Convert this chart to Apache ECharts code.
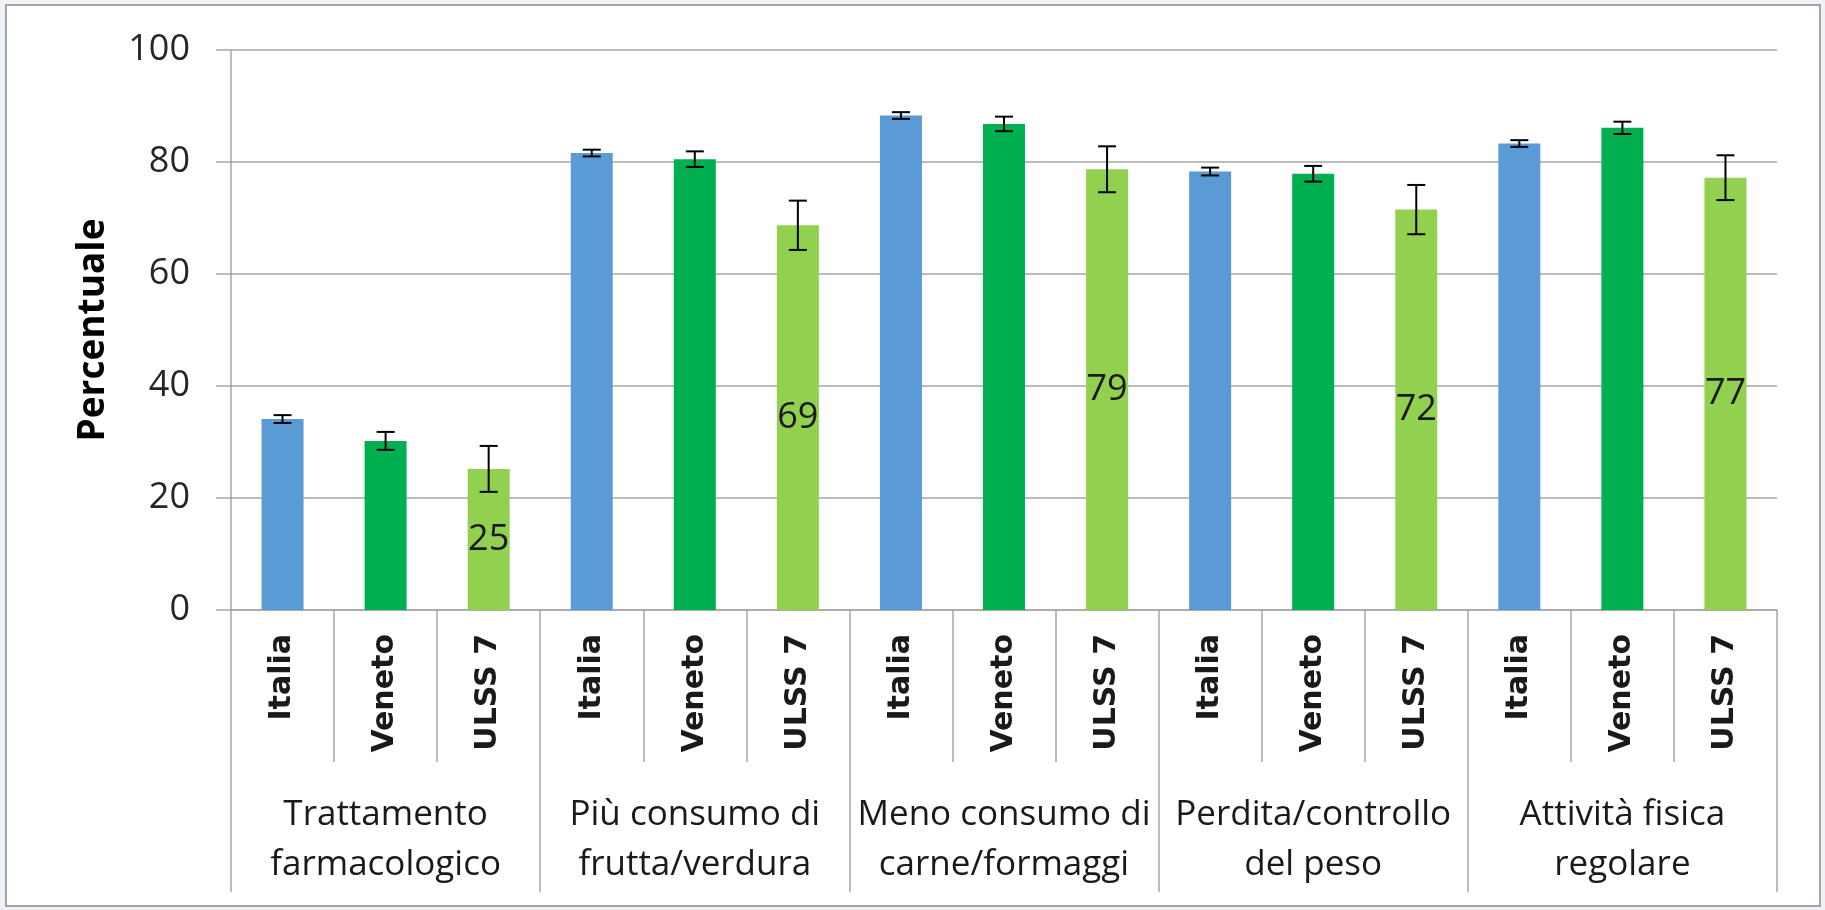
<!DOCTYPE html>
<html>
<head>
<meta charset="utf-8">
<script src="https://cdn.jsdelivr.net/npm/echarts@6/dist/echarts.min.js"></script>
<style>
    html, body { margin: 0; padding: 0; background: #eef2f7; }
    #chart { width: 1825px; height: 910px; }
</style>
</head>
<body>
<div id="chart"></div>
<script>
// gruppi e aree
var groups = ['Trattamento\nfarmacologico', 'Più consumo di\nfrutta/verdura', 'Meno consumo di\ncarne/formaggi', 'Perdita/controllo\ndel peso', 'Attività fisica\nregolare'];
var areas = ['Italia', 'Veneto', 'ULSS 7'];
var areaColors = ['#5b9bd5', '#00b050', '#92d050'];

// percentuali
var italia = [34.1, 81.6, 88.3, 78.3, 83.3];
var veneto = [30.2, 80.5, 86.8, 77.9, 86.1];
var ulss7 = [25.2, 68.7, 78.7, 71.5, 77.2];

// semiampiezza intervallo di confidenza
var errItalia = [0.7, 0.6, 0.6, 0.7, 0.6];
var errVeneto = [1.6, 1.4, 1.3, 1.4, 1.1];
var errUlss7 = [4.1, 4.4, 4.1, 4.4, 4.0];

var yTicks = [0, 20, 40, 60, 80, 100];

var values = [italia, veneto, ulss7];
var errors = [errItalia, errVeneto, errUlss7];

var cats = [], barData = [], errData = [];
for (var g = 0; g < groups.length; g++) {
    for (var a = 0; a < areas.length; a++) {
        var v = values[a][g];
        var e = errors[a][g];
        cats.push(areas[a]);
        barData.push({
            value: v,
            itemStyle: { color: areaColors[a] },
            label: { show: a == 2 }
        });
        errData.push([cats.length - 1, v - e, v + e]);
    }
}

var myChart = echarts.init(document.getElementById('chart'));

var option = {
    backgroundColor: '#eef2f7',
    animation: false,
    graphic: [{
        type: 'rect',
        z: -10,
        shape: { x: 6, y: 5, width: 1814, height: 901 },
        style: { fill: '#ffffff', stroke: '#a3a3a3', lineWidth: 2 }
    }],
    grid: {
        left: 231,
        right: 48,
        top: 50,
        bottom: 300,
        outerBoundsMode: 'none'
    },
    xAxis: [{
        type: 'category',
        data: cats,
        axisLine: { show: true, lineStyle: { color: '#a6a6a6', width: 1.5 } },
        axisTick: { show: true, interval: 0, length: 152, lineStyle: { color: '#a6a6a6', width: 1.5 } },
        axisLabel: {
            interval: 0,
            rotate: 90,
            margin: 24,
            fontFamily: 'DejaVu Sans',
            fontWeight: 'bold',
            fontSize: 30,
            color: '#1a1a1a'
        },
        splitLine: { show: false }
    }, {
        type: 'category',
        position: 'bottom',
        data: groups,
        axisLine: { show: false },
        axisTick: { show: true, interval: 0, length: 282, lineStyle: { color: '#a6a6a6', width: 1.5 } },
        axisLabel: {
            interval: 0,
            margin: 180,
            fontFamily: 'Open Sans',
            fontSize: 35,
            lineHeight: 50,
            color: '#1a1a1a'
        },
        splitLine: { show: false }
    }],
    yAxis: {
        type: 'value',
        min: yTicks[0],
        max: yTicks[yTicks.length - 1],
        interval: 20,
        name: 'Percentuale',
        nameLocation: 'middle',
        nameGap: 119,
        nameTextStyle: {
            fontFamily: 'Open Sans',
            fontWeight: 'bold',
            fontSize: 37,
            color: '#000000'
        },
        axisLine: { show: true, lineStyle: { color: '#a6a6a6', width: 1.5 } },
        axisTick: { show: true, length: 15, lineStyle: { color: '#a6a6a6', width: 1.5 } },
        axisLabel: {
            margin: 41,
            fontFamily: 'Open Sans',
            fontSize: 36,
            color: '#262626'
        },
        splitLine: { show: true, lineStyle: { color: '#a6a6a6', width: 1.5 } }
    },
    series: [{
        type: 'bar',
        xAxisIndex: 0,
        data: barData,
        barWidth: 42,
        label: {
            position: 'inside',
            fontFamily: 'Open Sans',
            fontSize: 36,
            color: '#1a1a1a',
            formatter: function (p) {
                return Math.round(p.value);
            }
        }
    }, {
        type: 'custom',
        xAxisIndex: 0,
        z: 10,
        data: errData,
        encode: { x: 0, y: [1, 2] },
        renderItem: function (params, api) {
            var x = api.value(0);
            var lo = api.coord([x, api.value(1)]);
            var hi = api.coord([x, api.value(2)]);
            var cap = 9;
            var style = { stroke: '#000000', lineWidth: 2 };
            return {
                type: 'group',
                children: [
                    { type: 'line', shape: { x1: hi[0], y1: hi[1], x2: lo[0], y2: lo[1] }, style: style },
                    { type: 'line', shape: { x1: hi[0] - cap, y1: hi[1], x2: hi[0] + cap, y2: hi[1] }, style: style },
                    { type: 'line', shape: { x1: lo[0] - cap, y1: lo[1], x2: lo[0] + cap, y2: lo[1] }, style: style }
                ]
            };
        }
    }]
};
myChart.setOption(option);
</script>
</body>
</html>
